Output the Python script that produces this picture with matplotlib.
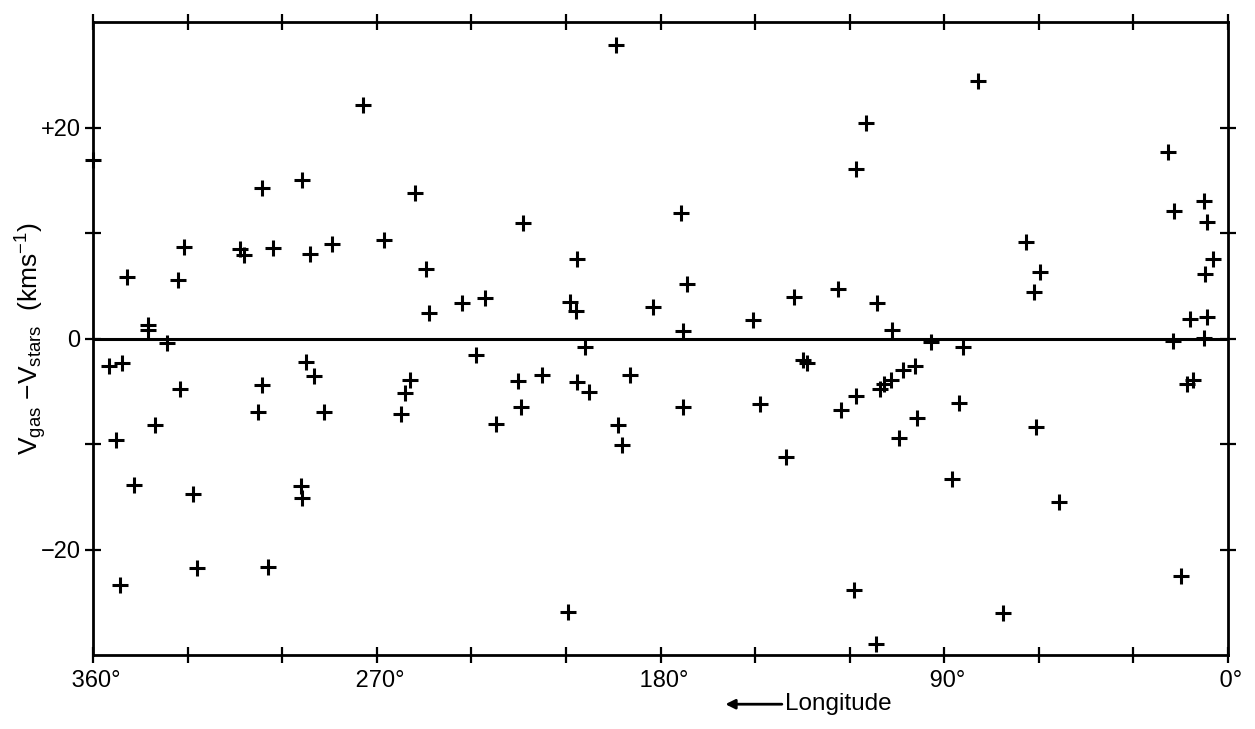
import matplotlib
matplotlib.use("Agg")
import matplotlib.pyplot as plt
from matplotlib.ticker import FixedLocator

plt.rcParams['font.family'] = ['Liberation Sans', 'DejaVu Sans']
plt.rcParams['mathtext.fontset'] = 'custom'
plt.rcParams['mathtext.rm'] = 'Liberation Sans'
plt.rcParams['mathtext.it'] = 'Liberation Sans:italic'
plt.rcParams['mathtext.bf'] = 'Liberation Sans:bold'

# Galactic longitude (deg) and V_gas - V_stars (km/s)
longitude = [
    360.0, 354.8, 350.9, 349.3, 352.8, 351.4, 347.0, 342.5, 342.5, 340.4,
    336.4, 332.9, 332.4, 331.1, 328.2, 327.1, 313.4, 312.0, 307.6, 306.5,
    306.4, 304.6, 302.8, 293.7, 294.1, 293.7, 292.4, 291.2, 289.9, 286.6,
    284.1, 274.3, 267.7, 262.4, 261.0, 259.5, 257.9, 254.5, 253.3, 243.1,
    238.5, 235.6, 232.3, 225.3, 224.2, 223.7, 217.7, 209.3, 208.7, 206.8,
    206.4, 206.4, 203.9, 202.7, 194.2, 193.4, 192.1, 189.7, 182.3, 173.5,
    171.7, 173.0, 173.0, 150.6, 148.4, 140.3, 137.7, 134.7, 133.6, 123.6,
    122.7, 118.6, 118.1, 118.1, 114.9, 111.7, 111.4, 110.4, 109.1, 107.0,
    106.7, 104.4, 103.0, 99.3, 98.5, 94.3, 87.4, 85.3, 84.0, 79.4,
    71.3, 64.1, 61.4, 60.9, 59.6, 53.5, 19.1, 17.0, 17.3, 15.0,
    12.9, 12.1, 11.2, 7.6, 7.6, 7.3, 6.8, 6.8, 4.7,
]
dv = [
    16.9, -2.6, -2.3, 5.8, -9.65, -23.4, -13.9, 1.3, 0.8, -8.2,
    -0.4, 5.55, -4.8, 8.7, -14.7, -21.8, 8.5, 7.9, -7.0, -4.45,
    14.3, -21.7, 8.6, 15.0, -14.0, -15.1, -2.2, 8.0, -3.6, -6.95,
    9.0, 22.1, 9.35, -7.2, -5.2, -3.9, 13.8, 6.6, 2.4, 3.35,
    -1.6, 3.8, -8.1, -4.0, -6.5, 10.95, -3.5, -25.9, 3.45, 2.6,
    7.5, -4.1, -0.8, -5.1, 27.8, -8.2, -10.1, -3.45, 2.95, 11.85,
    5.2, 0.67, -6.5, 1.75, -6.2, -11.2, 3.97, -2.0, -2.3, 4.7,
    -6.8, -23.8, 16.1, -5.45, 20.4, -29.0, 3.36, -4.8, -4.35, -3.9,
    0.83, -9.4, -3.0, -2.65, -7.5, -0.3, -13.3, -6.15, -0.8, 24.4,
    -26.0, 9.15, 4.45, -8.4, 6.35, -15.5, 17.65, 12.07, -0.2, -22.5,
    -4.3, 1.84, -3.9, 13.05, 0.03, 6.1, 11.05, 2.0, 7.5,
]

xtick_major = [360, 270, 180, 90, 0]
xtick_labels = [' 360°', ' 270°', ' 180°', ' 90°', ' 0°']
xtick_minor = [330, 300, 240, 210, 150, 120, 60, 30]
ytick_major = [20, 0, -20]
ytick_labels = ['+20', '0', '\u221220']
ytick_minor = [10, -10]

fig = plt.figure(figsize=(12.55, 7.29), dpi=100)
ax = fig.add_axes([0.0741, 0.1015, 0.9044, 0.8683])

ax.plot(longitude, dv, linestyle='none', marker='+', color='black',
        markersize=11, markeredgewidth=2.2, clip_on=False, zorder=3)
ax.axhline(0, color='black', linewidth=2.2, zorder=2)

ax.set_xlim(360, 0)
ax.set_ylim(-30, 30)

for s in ax.spines.values():
    s.set_linewidth(2.0)

ax.xaxis.set_major_locator(FixedLocator(xtick_major))
ax.set_xticklabels(xtick_labels)
ax.xaxis.set_minor_locator(FixedLocator(xtick_minor))
ax.yaxis.set_major_locator(FixedLocator(ytick_major))
ax.set_yticklabels(ytick_labels)
ax.yaxis.set_minor_locator(FixedLocator(ytick_minor))

ax.tick_params(which='both', direction='inout', length=12, width=1.6,
               top=True, right=True, labelsize=17, pad=3)
ax.tick_params(axis='x', which='major', pad=5)

ax.set_ylabel('V$_{\\mathrm{gas}}$ $-$V$_{\\mathrm{stars}}$  (kms$^{-1}$)',
              fontsize=19)
ax.yaxis.set_label_coords(-0.039, 0.5)

# x-axis caption with arrow
fig.text(0.6255, 0.034, 'Longitude', fontsize=17.5, ha='left', va='center')
ax.annotate('', xy=(0.578, 0.034), xytext=(0.623, 0.034),
            xycoords='figure fraction', textcoords='figure fraction',
            arrowprops=dict(arrowstyle='-|>', color='black', lw=2.0,
                            mutation_scale=14, shrinkA=0, shrinkB=0))

fig.savefig('out.png', dpi=100)
